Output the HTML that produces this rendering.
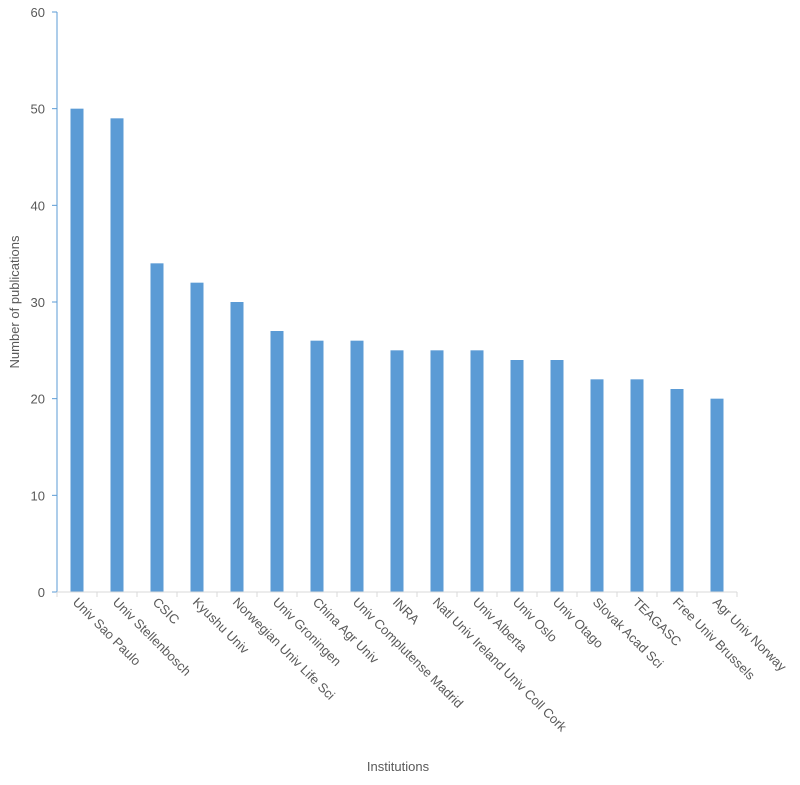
<!DOCTYPE html>
<html><head><meta charset="utf-8"><style>
body{margin:0;background:#fff;}
svg text{font-family:"Liberation Sans",sans-serif;fill:#595959;}
</style></head><body>
<svg id="chart" width="800" height="780" xmlns="http://www.w3.org/2000/svg">
<g id="g"></g>
<text transform="translate(19,302) rotate(-90)" text-anchor="middle" font-size="13">Number of publications</text>
<text x="398" y="771" text-anchor="middle" font-size="13">Institutions</text>
</svg>
<script>
const categories=["Univ Sao Paulo","Univ Stellenbosch","CSIC","Kyushu Univ","Norwegian Univ Life Sci","Univ Groningen","China Agr Univ","Univ Complutense Madrid","INRA","Natl Univ Ireland Univ Coll Cork","Univ Alberta","Univ Oslo","Univ Otago","Slovak Acad Sci","TEAGASC","Free Univ Brussels","Agr Univ Norway"];
const values=[50,49,34,32,30,27,26,26,25,25,25,24,24,22,22,21,20];
const yTicks=[0,10,20,30,40,50,60];
const NS="http://www.w3.org/2000/svg";
const g=document.getElementById('g');
const x0=57,x1=737,y0=592,yTop=12,yMax=60;
const band=(x1-x0)/categories.length;
const y=v=>y0-(v/yMax)*(y0-yTop);
const xc=i=>x0+band*(i+0.5);
function mk(t,a){const e=document.createElementNS(NS,t);for(const k in a)e.setAttribute(k,a[k]);g.appendChild(e);return e;}
yTicks.forEach(t=>{
  const tk=mk('line',{x1:x0-5,x2:x0,y1:y(t),y2:y(t),stroke:'#5b9bd5'});
  
  
  const l=mk('text',{x:x0-12,y:y(t)+5,'text-anchor':'end','font-size':'13'});
  l.textContent=t;
  
  
});
values.forEach((v,i)=>{
  const r=mk('rect',{x:xc(i)-6.5,y:y(v),width:13,height:y0-y(v),fill:'#5b9bd5'});
  
  
});
const ya=mk('line',{x1:x0,x2:x0,y1:yTop,y2:y0,stroke:'#5b9bd5'});


const xa=mk('line',{x1:x0,x2:x1,y1:y0,y2:y0,stroke:'#d9d9d9'});


for(let i=0;i<=categories.length;i++){
  const t=mk('line',{x1:x0+band*i,x2:x0+band*i,y1:y0,y2:y0+5,stroke:'#d9d9d9'});
  
  
}
categories.forEach((c,i)=>{
  const l=mk('text',{transform:`translate(${xc(i)-5},${y0+11}) rotate(45)`,'font-size':'13'});
  l.textContent=c;
  
  
});
</script>
</body></html>
